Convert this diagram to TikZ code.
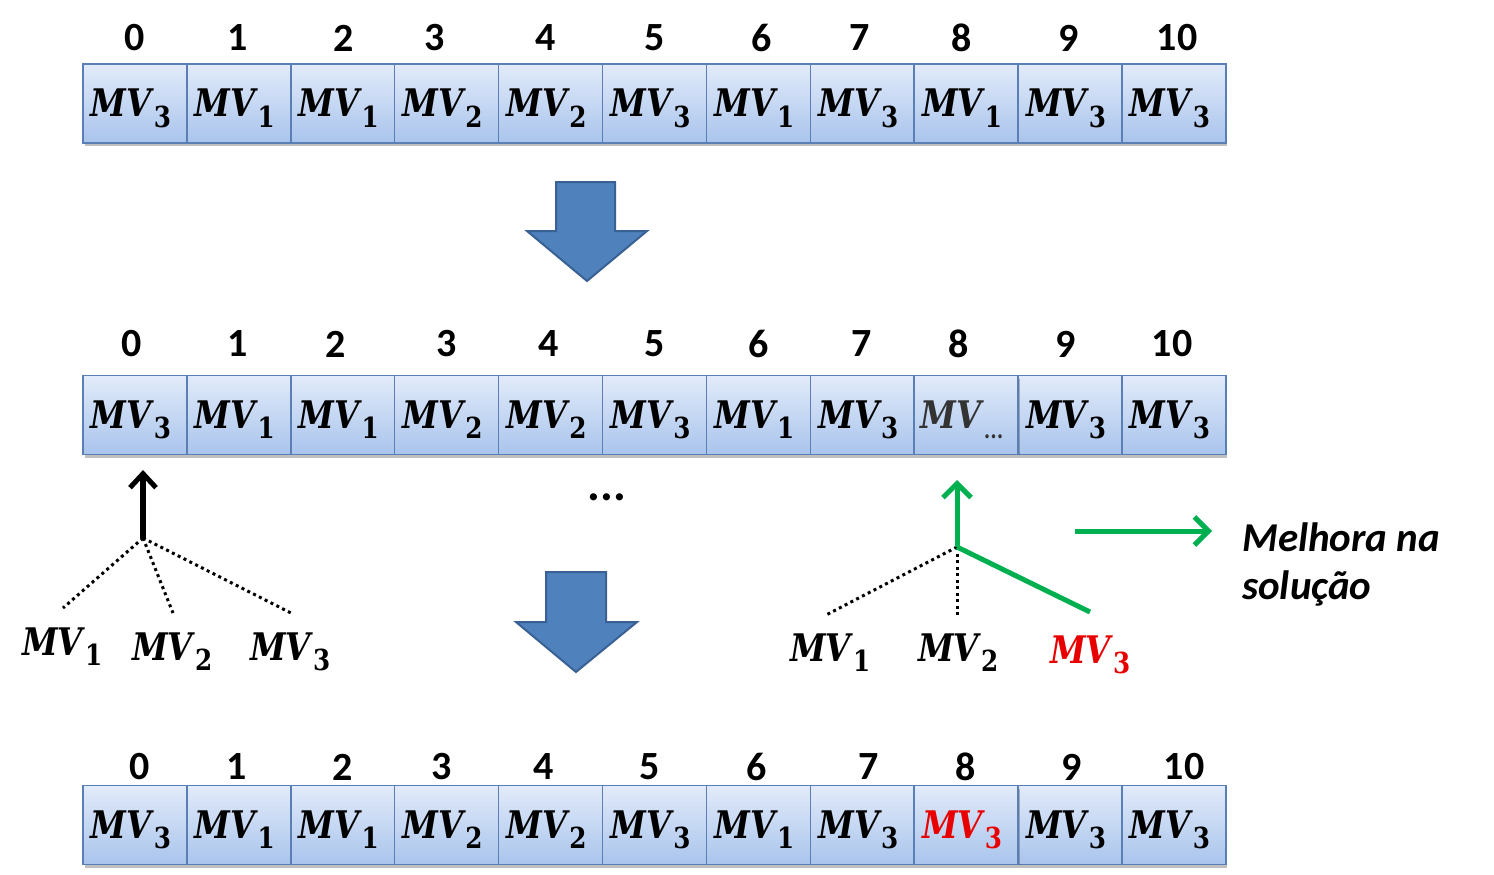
\documentclass[tikz,border=0pt]{standalone}
\usepackage{fontspec}
\newfontfamily\calib{Carlito}
\newfontfamily\mvfont{DejaVu Serif}[FakeStretch=0.85]
\usetikzlibrary{arrows.meta,shadows}
\definecolor{cellborder}{HTML}{5A7FB5}
\definecolor{celltop}{HTML}{E2EBFA}
\definecolor{cellbot}{HTML}{A9C4EC}
\definecolor{bigblue}{HTML}{4F81BD}
\definecolor{bigborder}{HTML}{3A6193}
\definecolor{grn}{HTML}{00B050}
\definecolor{redmv}{HTML}{E80000}
\newcommand{\mvx}[1]{{\mvfont\bfseries\itshape MV}\kern2pt\raisebox{-10pt}{\mvfont\fontsize{29}{29}\selectfont\bfseries #1}}
\tikzset{
  cell/.style={rectangle, draw=cellborder, line width=1.5pt, top color=celltop, bottom color=cellbot,
    minimum width=103.9pt, minimum height=79pt, inner sep=0pt,
    drop shadow={shadow xshift=1.5pt, shadow yshift=-3pt, opacity=0.25, fill=black}},
  idx/.style={font=\calib\bfseries\fontsize{40}{40}\selectfont, inner sep=0pt},
  mv/.style={font=\fontsize{38}{38}\selectfont, inner sep=0pt},
  incell/.style={mv, anchor=base, xshift=-4pt, yshift=-13.5pt},
  bigarrow/.style={fill=bigblue, draw=bigborder, line width=2pt, line join=miter},
  dotline/.style={line width=3pt, dash pattern=on 3pt off 3.5pt},
  blackarrow/.style={line width=6pt, -{Straight Barb[length=14pt,width=26pt,line width=5pt]}},
  greenline/.style={line width=5pt, draw=grn},
  greenarrow/.style={greenline, -{Straight Barb[length=14pt,width=28pt,line width=5pt]}},
  note/.style={font=\calib\bfseries\itshape\fontsize{41}{48}\selectfont, align=left, inner sep=0pt},
}
\begin{document}
\begin{tikzpicture}[x=1pt,y=1pt]
\useasboundingbox (0,0) rectangle (1494,-875);
% rows of cells
\foreach \i/\s in {0/3,1/1,2/1,3/2,4/2,5/3,6/1,7/3,8/1,9/3,10/3}{
  \node[cell] (r1c\i) at ({83+103.9*(\i+0.5)},-103.5) {};
  \node[incell] at (r1c\i.center) {\mvx{\s}};
}
\foreach \i/\s in {0/3,1/1,2/1,3/2,4/2,5/3,6/1,7/3,9/3,10/3}{
  \node[cell] (r2c\i) at ({83+103.9*(\i+0.5)},-415) {};
  \node[incell] at (r2c\i.center) {\mvx{\s}};
}
\node[cell] (r2c8) at ({83+103.9*8.5},-415) {};
\node[incell, text=black!80] at (r2c8.center) {\mvx{\fontsize{22}{22}\selectfont...}};
\foreach \i/\s in {0/3,1/1,2/1,3/2,4/2,5/3,6/1,7/3,9/3,10/3}{
  \node[cell] (r3c\i) at ({83+103.9*(\i+0.5)},-825) {};
  \node[incell] at (r3c\i.center) {\mvx{\s}};
}
\node[cell] (r3c8) at ({83+103.9*8.5},-825) {};
\node[incell, text=redmv] at (r3c8.center) {\mvx{3}};
% index labels
\foreach \i/\lx in {0/135,1/238,2/344,3/435,4/546,5/655,6/762,7/860,8/962,9/1069,10/1177}{
  \node[idx] (t1n\i) at (\lx,-38) {\i};
}
\foreach \i/\lx in {0/132,1/238,2/336,3/447,4/549,5/655,6/759,7/862,8/959,9/1066,10/1172}{
  \node[idx] (t2n\i) at (\lx,-344) {\i};
}
\foreach \i/\lx in {0/140,1/237,2/343,3/442,4/544,5/650,6/757,7/869,8/966,9/1072,10/1184}{
  \node[idx] (t3n\i) at (\lx,-767) {\i};
}
% big arrows
\draw[bigarrow] (556,-182) -- (615,-182) -- (615,-231) -- (647,-231) -- (587,-281) -- (527,-231) -- (556,-231) -- cycle;
\draw[bigarrow] (546,-572) -- (606,-572) -- (606,-622) -- (637,-622) -- (576,-672) -- (516,-622) -- (546,-622) -- cycle;
% ellipsis
\node[font=\calib\bfseries\fontsize{48}{48}\selectfont, inner sep=0pt, anchor=base] (dots) at (607,-500) {...};
% left tree
\coordinate (j1) at (143,-538);
\coordinate (j1tip) at (143,-470);
\coordinate (e11) at (63,-608);
\coordinate (e12) at (173,-613);
\coordinate (e13) at (291,-613);
\node[mv, anchor=base west] (l11) at (22,-655) {\mvx{1}};
\node[mv, anchor=base west] (l12) at (132,-660) {\mvx{2}};
\node[mv, anchor=base west] (l13) at (250,-660) {\mvx{3}};
\draw[dotline] (j1) -- (e11);
\draw[dotline] (j1) -- (e12);
\draw[dotline] (j1) -- (e13);
\draw[blackarrow] (j1) -- (j1tip);
% right tree
\coordinate (j2) at (957,-547);
\coordinate (j2tip) at (957,-480);
\coordinate (e21) at (826,-615);
\coordinate (e22) at (957,-615);
\coordinate (e23) at (1090,-612);
\node[mv, anchor=base west] (l21) at (790,-661) {\mvx{1}};
\node[mv, anchor=base west] (l22) at (918,-661) {\mvx{2}};
\node[mv, anchor=base west, text=redmv] (l23) at (1050,-663) {\mvx{3}};
\draw[dotline] (j2) -- (e21);
\draw[dotline] (j2) -- (e22);
\draw[greenline] (j2) -- (e23);
\draw[greenarrow] (j2) -- (j2tip);
% legend
\coordinate (g1) at (1075,-531);
\coordinate (g2) at (1212,-531);
\draw[greenarrow] (g1) -- (g2);
\node[note, anchor=base west] (melhora) at (1242,-599) {Melhora na\\solução};
\end{tikzpicture}
\end{document}
